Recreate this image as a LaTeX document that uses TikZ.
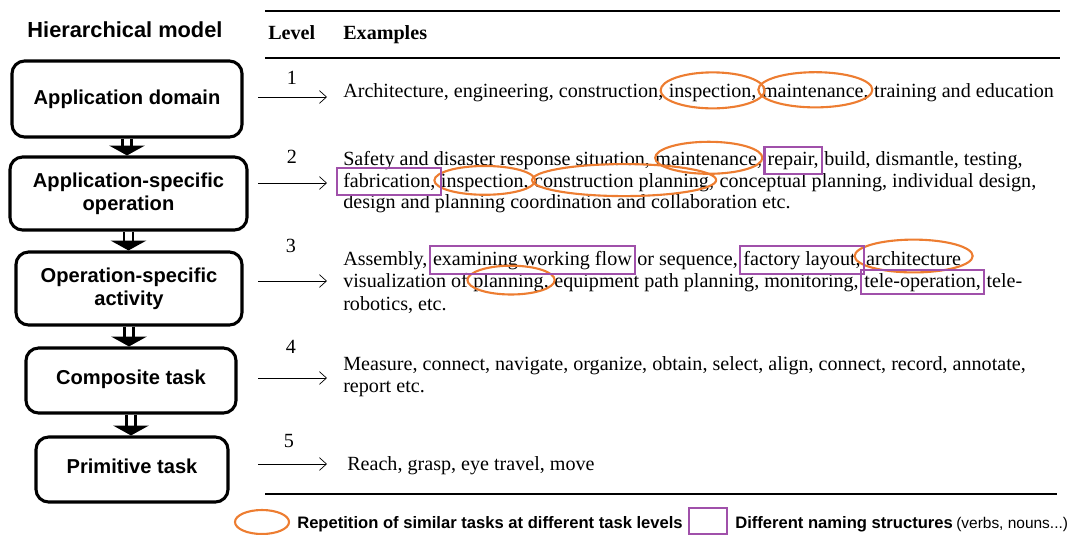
\documentclass[tikz,border=0pt]{standalone}
\usepackage{fontspec}
\setmainfont{Liberation Serif}
\setsansfont{Liberation Sans}
\usetikzlibrary{positioning,arrows.meta,fit,shapes.geometric}

\definecolor{repcolor}{RGB}{237,125,49}
\definecolor{namecolor}{RGB}{160,80,170}
\newcommand{\wsp}{3.55pt}

\tikzset{
  levelbox/.style={shape=rectangle, draw, line width=2.2pt, rounded corners=9pt, align=center,
    font=\sffamily\bfseries\fontsize{14.3}{16.4}\selectfont},
  seg/.style={inner sep=0pt, font=\fontsize{14.3}{16}\selectfont},
  rep/.style={draw=repcolor, line width=1.5pt},
  nam/.style={shape=rectangle, draw=namecolor, line width=1.5pt, inner xsep=2pt, inner ysep=3pt},
  down/.style={double, double distance=4.5pt, line width=2pt, -{Triangle[length=7pt,width=25pt]}},
  lvlarrow/.style={-{Straight Barb[length=5pt,width=9pt]}, line width=0.5pt},
  rule/.style={line width=0.8pt},
  legend/.style={inner sep=0pt, font=\sffamily\bfseries\fontsize{11.8}{14}\selectfont},
}

\begin{document}
\begin{tikzpicture}[x=0.025cm, y=-0.025cm]
\useasboundingbox (0,0) rectangle (1075,534);

% hierarchy
\node[font=\sffamily\bfseries\fontsize{15.5}{18}\selectfont] (title) at (125,30) {Hierarchical model};
\node[levelbox, minimum width=5.75cm, minimum height=1.9cm] (b1) at (127,99) {Application domain};
\node[levelbox, minimum width=5.925cm, minimum height=1.825cm] (b2) at (128.5,193.5) {Application-specific\\operation};
\node[levelbox, minimum width=5.65cm, minimum height=1.825cm] (b3) at (129,288.5) {Operation-specific\\activity};
\node[levelbox, minimum width=5.25cm, minimum height=1.625cm, text depth=4pt] (b4) at (131,380.5) {Composite task};
\node[levelbox, minimum width=4.8cm, minimum height=1.625cm, text depth=4pt] (b5) at (132,469.5) {Primitive task};

\draw[down] (b1.south) -- (b1.south |- b2.north);
\draw[down] (b2.south) -- (b2.south |- b3.north);
\draw[down] (b3.south) -- (b3.south |- b4.north);
\draw[down] (b4.south) -- (b4.south |- b5.north);

% table
\draw[rule] (265,11) -- (1060,11);
\draw[rule] (265,58) -- (1060,58);
\draw[rule] (265,494) -- (1057,494);
\node[seg, anchor=base west, font=\bfseries\fontsize{14.3}{16}\selectfont] (hlevel) at (268,39) {Level};
\node[seg, anchor=base west, font=\bfseries\fontsize{14.3}{16}\selectfont] (hex) at (343,39) {Examples};

\node[seg] (n1) at (292,78) {1};
\node[seg] (n2) at (292,157) {2};
\node[seg] (n3) at (291,246) {3};
\node[seg] (n4) at (291,347) {4};
\node[seg] (n5) at (289,441) {5};

\coordinate (a1) at (258,97);  \coordinate (e1) at (327,97);
\coordinate (a2) at (258,183); \coordinate (e2) at (327,183);
\coordinate (a3) at (258,281); \coordinate (e3) at (327,281);
\coordinate (a4) at (258,378); \coordinate (e4) at (327,378);
\coordinate (a5) at (258,464); \coordinate (e5) at (327,464);
\draw[lvlarrow] (a1) -- (e1);
\draw[lvlarrow] (a2) -- (e2);
\draw[lvlarrow] (a3) -- (e3);
\draw[lvlarrow] (a4) -- (e4);
\draw[lvlarrow] (a5) -- (e5);

% level 1
\node[seg, anchor=base west] (t1a) at (343,97) {Architecture, engineering, construction,};
\node[seg, base right=\wsp of t1a] (t1b) {inspection,};
\node[seg, base right=\wsp of t1b] (t1c) {maintenance,};
\node[seg, base right=\wsp of t1c] (t1d) {training and education};
\draw[rep] ([yshift=1.5pt]t1b.center) ellipse (1.3cm and 0.45cm);
\draw[rep] ([yshift=1.5pt]t1c.center) ellipse (1.425cm and 0.44cm);

% level 2
\node[seg, anchor=base west] (t2a) at (343,165) {Safety and disaster response situation,};
\node[seg, base right=\wsp of t2a] (t2b) {maintenance,};
\node[seg, base right=\wsp of t2b] (t2c) {repair,};
\node[seg, base right=\wsp of t2c] (t2d) {build, dismantle, testing,};
\node[seg, anchor=base west] (t2e) at (343,187) {fabrication,};
\node[seg, base right=\wsp of t2e] (t2f) {inspection,};
\node[seg, base right=\wsp of t2f] (t2g) {construction planning,};
\node[seg, base right=\wsp of t2g] (t2h) {conceptual planning, individual design,};
\node[seg, anchor=base west] (t2i) at (343,208) {design and planning coordination and collaboration etc.};
\draw[rep] ([yshift=1.5pt]t2b.center) ellipse (1.34cm and 0.4cm);
\draw[rep] ([yshift=1.5pt]t2f.center) ellipse (1.26cm and 0.36cm);
\draw[rep] ([yshift=1.5pt]t2g.center) ellipse (2.3cm and 0.4cm);
\node[nam, fit=(t2c)] (k2c) {};
\node[nam, fit=(t2e), inner xsep=4pt] (k2e) {};

% level 3
\node[seg, anchor=base west] (t3a) at (343,265) {Assembly,};
\node[seg, base right=\wsp of t3a] (t3b) {examining working flow};
\node[seg, base right=\wsp of t3b] (t3c) {or sequence,};
\node[seg, base right=\wsp of t3c] (t3d) {factory layout,};
\node[seg, base right=\wsp of t3d] (t3e) {architecture};
\node[seg, anchor=base west] (t3f) at (343,287) {visualization of};
\node[seg, base right=\wsp of t3f] (t3g) {planning,};
\node[seg, base right=\wsp of t3g] (t3h) {equipment path planning, monitoring,};
\node[seg, base right=\wsp of t3h] (t3i) {tele-operation,};
\node[seg, base right=\wsp of t3i] (t3j) {tele-};
\node[seg, anchor=base west] (t3k) at (343,310) {robotics, etc.};
\draw[rep] ([yshift=1.5pt]t3e.center) ellipse (1.475cm and 0.41cm);
\draw[rep] ([yshift=1.5pt]t3g.center) ellipse (1.09cm and 0.36cm);
\node[nam, fit=(t3b)] (k3b) {};
\node[nam, fit=(t3d)] (k3d) {};
\node[nam, fit=(t3i), inner ysep=2pt] (k3i) {};

% level 4 and 5
\node[seg, anchor=base west] (t4a) at (343,370) {Measure, connect, navigate, organize, obtain, select, align, connect, record, annotate,};
\node[seg, anchor=base west] (t4b) at (343,392) {report etc.};
\node[seg, anchor=base west] (t5a) at (347,470) {Reach, grasp, eye travel, move};

% legend
\node[rep, shape=ellipse, minimum width=1.35cm, minimum height=0.6cm] (keyrep) at (262,522) {};
\node[legend, anchor=base west] (keyrept) at (297,528) {Repetition of similar tasks at different task levels};
\node[nam, minimum width=0.95cm, minimum height=0.65cm] (keynam) at (708,521) {};
\node[legend, anchor=base west] (keynamt) at (735,528) {Different naming structures};
\node[legend, base right=2pt of keynamt, font=\sffamily\fontsize{11}{14}\selectfont] (keynams) {(verbs, nouns...)};
\end{tikzpicture}
\end{document}
